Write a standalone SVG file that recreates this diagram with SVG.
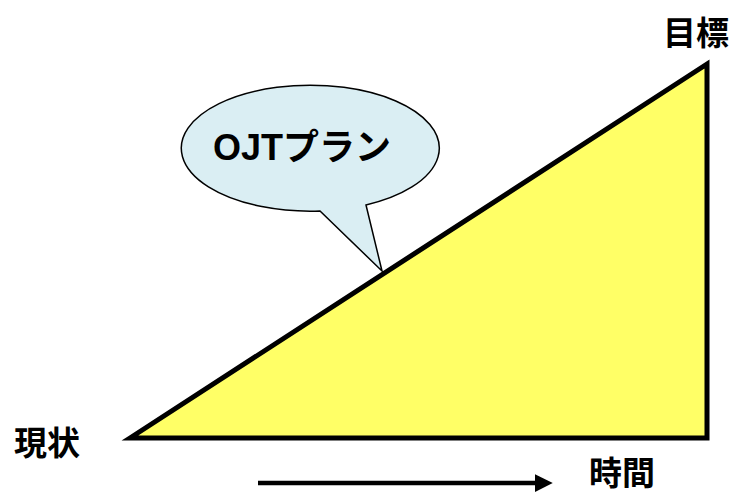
<svg xmlns="http://www.w3.org/2000/svg" width="734" height="492" viewBox="0 0 734 492">
<defs>
<style>
.lbl{font-family:"Liberation Sans","Noto Sans CJK JP",sans-serif;font-weight:bold;fill:#000;text-anchor:middle}
</style>
<marker id="ah" markerWidth="4" markerHeight="4" refX="0.5" refY="2" orient="auto" markerUnits="strokeWidth">
<path d="M0,0 L4,2 L0,4 Z" fill="#000"/>
</marker>
</defs>
<rect width="734" height="492" fill="#fff"/>
<g id="triangle">
<polygon points="130,438 707,64 707,438" fill="#FFFF66" stroke="#000" stroke-width="5" stroke-linejoin="miter"/>
</g>
<g id="bubble">
<path d="M320,211 A129,63 0 1 1 366,205 L382,271 Z" fill="#DAEEF3" stroke="#000" stroke-width="1.5" stroke-linejoin="miter"/>
<text class="lbl" x="302" y="160" font-size="36">OJTプラン</text>
</g>
<g id="goal"><text class="lbl" x="696" y="45" font-size="33">目標</text></g>
<g id="current"><text class="lbl" x="47" y="455" font-size="33">現状</text></g>
<g id="time"><text class="lbl" x="622" y="485" font-size="33">時間</text></g>
<g id="connectors">
<line x1="258" y1="483" x2="537" y2="483" stroke="#000" stroke-width="4.5" marker-end="url(#ah)"/>
</g>
</svg>
